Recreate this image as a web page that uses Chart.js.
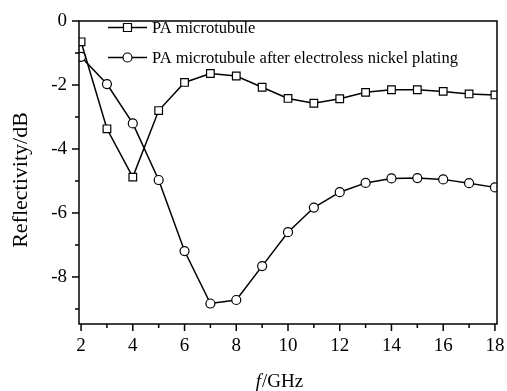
<!DOCTYPE html>
<html>
<head>
<meta charset="utf-8">
<script src="https://cdn.jsdelivr.net/npm/chart.js@4/dist/chart.umd.min.js"></script>
<style>
  html, body { margin: 0; padding: 0; background: #fff; }
  #wrap { width: 507px; height: 391px; }
</style>
</head>
<body>
<div id="wrap"><canvas id="reflectChart" width="507" height="391"></canvas></div>
<script>
// data
const freq = [2, 3, 4, 5, 6, 7, 8, 9, 10, 11, 12, 13, 14, 15, 16, 17, 18];
const paTube = [-0.65, -3.37, -4.88, -2.8, -1.92, -1.64, -1.72, -2.07, -2.42, -2.57, -2.43, -2.23, -2.15, -2.15, -2.2, -2.28, -2.31];
const paPlated = [-1.12, -1.97, -3.2, -4.97, -7.19, -8.83, -8.72, -7.66, -6.6, -5.83, -5.35, -5.06, -4.92, -4.91, -4.95, -5.07, -5.2];
const seriesNames = ['PA microtubule', 'PA microtubule after electroless nickel plating'];

const serif = '"Liberation Serif", "Times New Roman", serif';

function toXY(xs, ys) {
  return xs.map((x, i) => ({ x: x, y: ys[i] }));
}

// frame, outward ticks, legend and axis titles
const framePlugin = {
  id: 'framePlugin',
  afterDraw(chart) {
    const ctx = chart.ctx;
    const a = chart.chartArea;
    ctx.save();
    ctx.strokeStyle = '#000';
    ctx.lineWidth = 1.5;
    ctx.strokeRect(a.left, a.top, a.right - a.left, a.bottom - a.top);

    // ticks
    const xs = chart.scales.x;
    xs.ticks.forEach(t => {
      if (!Number.isInteger(t.value)) return;
      const px = xs.getPixelForValue(t.value);
      const len = t.value % 2 === 0 ? 7 : 4;
      ctx.beginPath();
      ctx.moveTo(px, a.bottom);
      ctx.lineTo(px, a.bottom + len);
      ctx.stroke();
    });
    const ys = chart.scales.y;
    ys.ticks.forEach(t => {
      if (!Number.isInteger(t.value)) return;
      const py = ys.getPixelForValue(t.value);
      const len = t.value % 2 === 0 ? 7 : 4;
      ctx.beginPath();
      ctx.moveTo(a.left, py);
      ctx.lineTo(a.left - len, py);
      ctx.stroke();
    });

    // legend
    ctx.font = '16.5px ' + serif;
    ctx.textBaseline = 'middle';
    ctx.fillStyle = '#000';
    const lx = a.left + 29;
    chart.data.datasets.forEach((ds, i) => {
      const ly = a.top + 6.5 + i * 30;
      ctx.lineWidth = 1.5;
      ctx.beginPath();
      ctx.moveTo(lx, ly);
      ctx.lineTo(lx + 39, ly);
      ctx.stroke();
      const cx = lx + 19.5;
      ctx.fillStyle = '#fff';
      ctx.lineWidth = 1.2;
      ctx.beginPath();
      if (ds.pointStyle === 'rect') {
        ctx.rect(cx - 4, ly - 4, 8, 8);
      } else {
        ctx.arc(cx, ly, 4.5, 0, Math.PI * 2);
      }
      ctx.fill();
      ctx.stroke();
      ctx.fillStyle = '#000';
      ctx.fillText(ds.label, lx + 44, ly + 1);
    });

    // y title
    ctx.save();
    ctx.translate(21, 180);
    ctx.rotate(-Math.PI / 2);
    ctx.textAlign = 'center';
    ctx.font = '22px ' + serif;
    ctx.fillText('Reflectivity/dB', 0, 0);
    ctx.restore();

    // x title with italic f
    ctx.textBaseline = 'alphabetic';
    ctx.font = 'italic 19px ' + serif;
    const w1 = ctx.measureText('f').width;
    ctx.font = '19px ' + serif;
    const w2 = ctx.measureText('/GHz').width;
    const start = (a.left + a.right) / 2 - 9 - (w1 + w2) / 2;
    ctx.font = 'italic 19px ' + serif;
    ctx.fillText('f', start, 387);
    ctx.font = '19px ' + serif;
    ctx.fillText('/GHz', start + w1 + 1, 387);
    ctx.restore();
  }
};

const ctxReflect = document.getElementById('reflectChart');
const reflectChart = new Chart(ctxReflect, {
  type: 'line',
  data: {
    datasets: [
      {
        label: seriesNames[0],
        data: toXY(freq, paTube),
        borderColor: '#000',
        backgroundColor: '#fff',
        borderWidth: 1.5,
        pointStyle: 'rect',
        pointRadius: 5.4,
        pointBorderWidth: 1.2,
        pointBackgroundColor: '#fff',
        pointBorderColor: '#000',
        tension: 0,
        fill: false
      },
      {
        label: seriesNames[1],
        data: toXY(freq, paPlated),
        borderColor: '#000',
        backgroundColor: '#fff',
        borderWidth: 1.5,
        pointStyle: 'circle',
        pointRadius: 4.5,
        pointBorderWidth: 1.2,
        pointBackgroundColor: '#fff',
        pointBorderColor: '#000',
        tension: 0,
        fill: false
      }
    ]
  },
  options: {
    responsive: false,
    animation: false,
    devicePixelRatio: 1,
    layout: {
      padding: { top: 21, right: 10, left: 0, bottom: 0 }
    },
    plugins: {
      legend: { display: false },
      tooltip: { enabled: false }
    },
    scales: {
      x: {
        type: 'linear',
        min: 1.92,
        max: 18.08,
        afterFit(scale) {
          scale.height = 67;
          scale.paddingLeft = 0;
          scale.paddingRight = 0;
        },
        border: { display: false },
        grid: { display: false, drawTicks: false, tickLength: 0 },
        ticks: {
          stepSize: 1,
          includeBounds: false,
          autoSkip: false,
          maxRotation: 0,
          padding: 11,
          color: '#000',
          font: { family: serif, size: 19 },
          callback: v => (Number.isInteger(v) && v % 2 === 0) ? String(v) : ''
        }
      },
      y: {
        type: 'linear',
        min: -9.47,
        max: 0,
        afterFit(scale) {
          scale.width = 79;
          scale.paddingTop = 0;
          scale.paddingBottom = 0;
        },
        border: { display: false },
        grid: { display: false, drawTicks: false, tickLength: 0 },
        ticks: {
          stepSize: 1,
          includeBounds: false,
          autoSkip: false,
          padding: 12,
          color: '#000',
          font: { family: serif, size: 19 },
          callback: v => (Number.isInteger(v) && v % 2 === 0) ? String(v === 0 ? 0 : v) : ''
        }
      }
    }
  },
  plugins: [framePlugin]
});
</script>
</body>
</html>
